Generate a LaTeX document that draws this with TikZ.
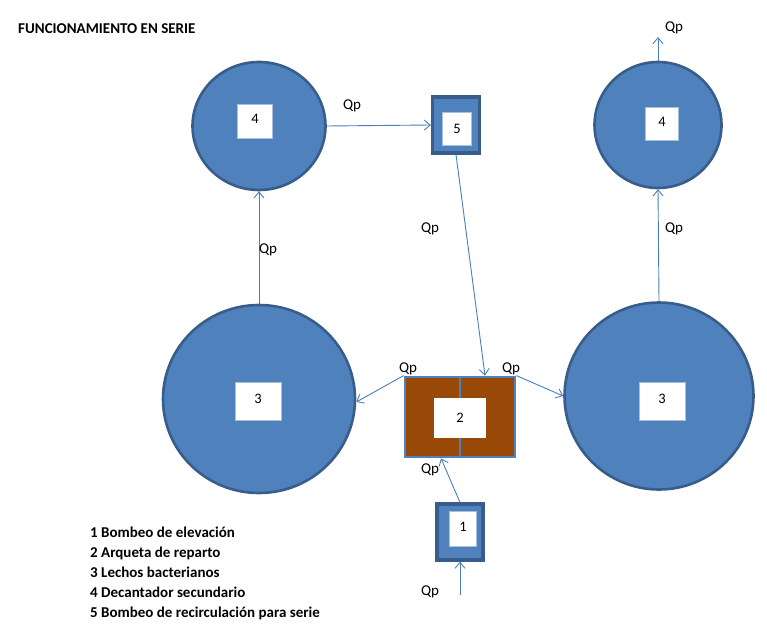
\documentclass[tikz,border=0pt]{standalone}
\usepackage{fontspec}
\setmainfont{Carlito}
\usetikzlibrary{shapes.geometric,arrows.meta}
\definecolor{fillblue}{HTML}{4F81BD}
\definecolor{edgeblue}{HTML}{385D8A}
\definecolor{arrowblue}{HTML}{4A7EBB}
\definecolor{brownfill}{HTML}{984807}
\definecolor{innerblue}{HTML}{A9BFDE}
\tikzset{
  tank/.style={ellipse, fill=fillblue, draw=edgeblue, line width=2.6pt, inner sep=0pt},
  tag/.style={rectangle, fill=white, draw=innerblue, line width=0.8pt, inner sep=0pt, font=\fontsize{14.5}{16}\selectfont},
  pumpbox/.style={rectangle, fill=fillblue, draw=edgeblue, line width=3.2pt, inner sep=0pt},
  flow/.style={draw=arrowblue, line width=0.9pt, -{Straight Barb[length=6pt,width=10pt]}},
  qlabel/.style={font=\fontsize{15}{17}\selectfont, inner sep=0pt},
  legend/.style={font=\bfseries\fontsize{15}{17}\selectfont, anchor=base west, inner sep=0pt}
}
\begin{document}
\begin{tikzpicture}[x=1pt,y=-1pt]
\useasboundingbox (0,0) rectangle (767,631);
% title
\node[font=\bfseries\fontsize{15}{17}\selectfont, anchor=base west, inner sep=0pt] (title) at (18,34) {FUNCIONAMIENTO EN SERIE};
% tanks
\node[tank, minimum width=133pt, minimum height=128pt] (c4l) at (259,126) {};
\node[tank, minimum width=127pt, minimum height=126pt] (c4r) at (658,125) {};
\node[tank, minimum width=192pt, minimum height=188pt] (c3l) at (259,399) {};
\node[tank, minimum width=189pt, minimum height=187pt] (c3r) at (659,396) {};
% tags in tanks
\node[tag, minimum width=35pt, minimum height=34pt] (t4l) at (255,121) {\raisebox{4pt}{4}};
\node[tag, minimum width=33pt, minimum height=33pt] (t4r) at (662,124) {\raisebox{4pt}{4}};
\node[tag, minimum width=46pt, minimum height=38pt] (t3l) at (258,401) {\raisebox{4pt}{3}};
\node[tag, minimum width=46pt, minimum height=38pt] (t3r) at (662,401) {\raisebox{4pt}{3}};
% pump 5
\node[pumpbox, minimum width=47pt, minimum height=56pt] (b5) at (456,125) {};
\node[tag, minimum width=29pt, minimum height=33pt] (t5) at (457,129) {5};
% distribution box 2
\node[rectangle, fill=brownfill, draw=fillblue, line width=2.8pt, minimum width=110pt, minimum height=80pt, inner sep=0pt] (b2) at (460,417) {};
\draw[fillblue, line width=2.8pt] (b2.north) -- (b2.south);
\node[tag, draw=white, minimum width=51pt, minimum height=39pt] (t2) at (460,418) {2};
% pump 1
\node[pumpbox, minimum width=46pt, minimum height=56pt] (b1) at (460,532) {};
\node[tag, minimum width=27pt, minimum height=35pt] (t1) at (463,529) {\raisebox{4pt}{1}};
% free ends
\coordinate (inflow) at (460,595);
\coordinate (outflow) at (658,37);
% connectors
\draw[flow] (c4l.east) -- (b5.west);
\draw[flow] (b5.south) -- ([xshift=25pt]b2.north);
\draw[flow] (c3l.north) -- (c4l.south);
\draw[flow] (c3r.north) -- (c4r.south);
\draw[flow] (c4r.north) -- (outflow);
\draw[flow] (b2.north west) -- ([yshift=-3pt]c3l.east);
\draw[flow] (b2.north east) -- (c3r.west);
\draw[flow] (b1.north) -- ([xshift=-19pt]b2.south);
\draw[flow] (inflow) -- (b1.south);
% flow labels
\node[qlabel] (q1) at (352,106) {Qp};
\node[qlabel] (q2) at (430,229) {Qp};
\node[qlabel] (q3) at (268,250) {Qp};
\node[qlabel] (q4) at (674,229) {Qp};
\node[qlabel] (q5) at (674,28) {Qp};
\node[qlabel] (q6) at (408,369) {Qp};
\node[qlabel] (q7) at (511,369) {Qp};
\node[qlabel] (q8) at (430,470) {Qp};
\node[qlabel] (q9) at (430,592) {Qp};
% legend
\node[legend] (l1) at (90,537) {1 Bombeo de elevación};
\node[legend] (l2) at (90,557) {2 Arqueta de reparto};
\node[legend] (l3) at (90,577) {3 Lechos bacterianos};
\node[legend] (l4) at (90,597) {4 Decantador secundario};
\node[legend] (l5) at (90,617) {5 Bombeo de recirculación para serie};
\end{tikzpicture}
\end{document}
